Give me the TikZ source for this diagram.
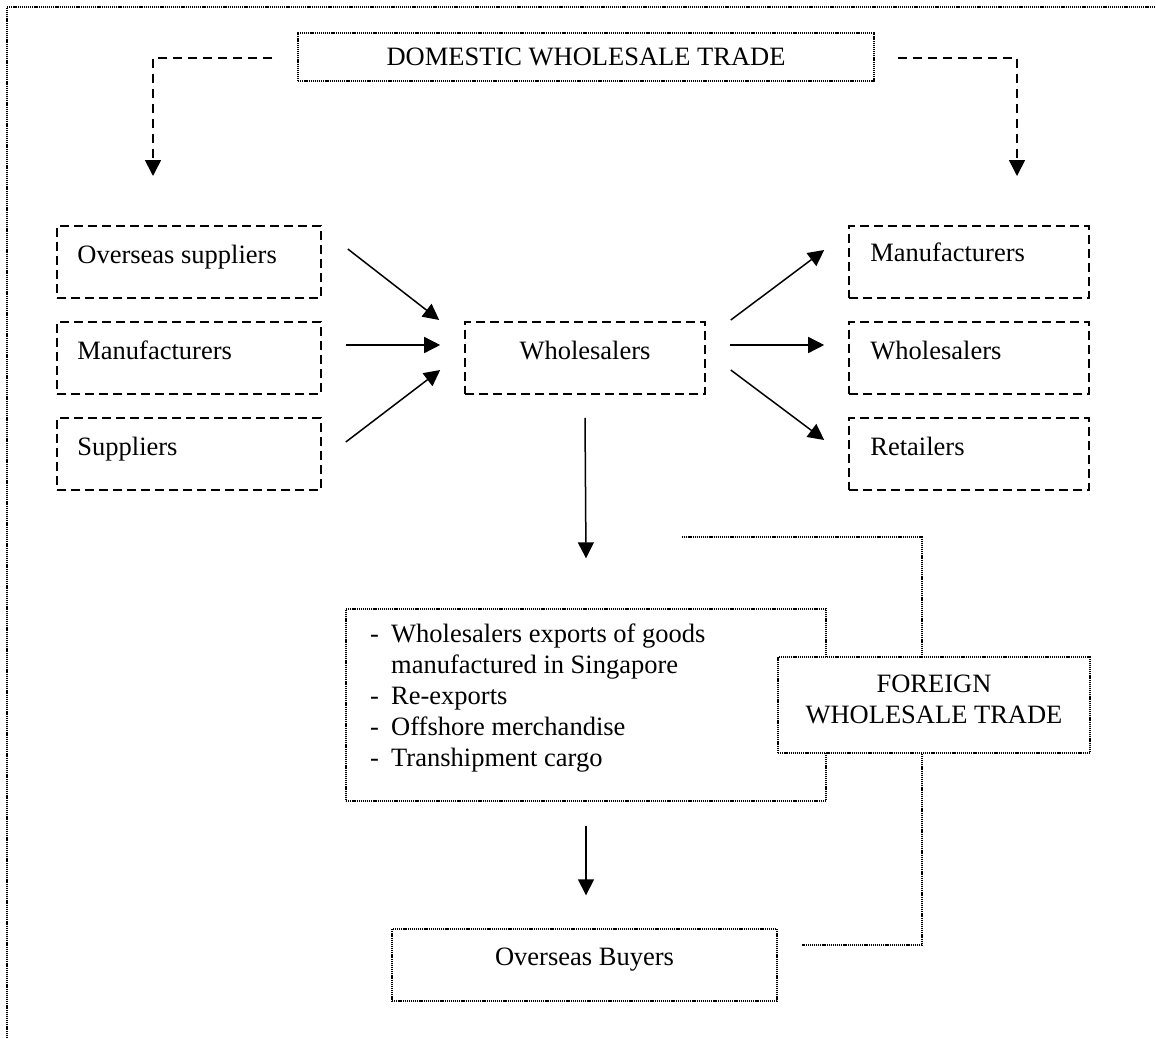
\documentclass[tikz,border=0pt]{standalone}
\usepackage{fontspec}
\setmainfont{Liberation Serif}
\usetikzlibrary{arrows.meta,calc}
\tikzset{
  dotbox/.style={draw, line width=1.4pt, dash pattern=on 1.2pt off 0.9pt, fill=white, inner sep=0pt},
  dashbox/.style={draw, line width=1.6pt, dash pattern=on 9pt off 5pt, inner sep=0pt, minimum width=240pt, minimum height=72pt},
  sidebox/.style={dashbox, minimum width=264pt},
  lbl/.style={inner sep=0pt, font=\fontsize{26.5}{31}\selectfont},
  arr/.style={line width=1.5pt, -{Triangle[length=16pt,width=16pt]}},
  darr/.style={line width=1.6pt, dash pattern=on 9pt off 6pt, -{Triangle[length=16pt,width=16pt]}},
  dotline/.style={line width=1.4pt, dash pattern=on 1.2pt off 0.9pt},
}
\begin{document}
\begin{tikzpicture}[x=1pt,y=-1pt]
\useasboundingbox (0,0) rectangle (1156,1038);
% outer frame (top and left only)
\draw[dotline] (7,1038) -- (7,7) -- (1156,7);

% top box
\node[dotbox, lbl, minimum width=576pt, minimum height=48pt] (dom) at (586,57) {DOMESTIC WHOLESALE TRADE};

% left boxes
\node[sidebox] (osup) at (189,262) {};
\node[lbl, anchor=base west] (osupT) at ($(osup.west)+(21,1)$) {Overseas suppliers};
\node[sidebox] (lman) at (189,358) {};
\node[lbl, anchor=base west] (lmanT) at ($(lman.west)+(21,1)$) {Manufacturers};
\node[sidebox] (lsup) at (189,454) {};
\node[lbl, anchor=base west] (lsupT) at ($(lsup.west)+(21,1)$) {Suppliers};

% centre
\node[dashbox] (whl) at (585,358) {};
\node[lbl, anchor=base] (whlT) at ($(whl.center)+(0,1)$) {Wholesalers};

% right boxes
\node[dashbox] (rman) at (969,262) {};
\node[lbl, anchor=base west] (rmanT) at ($(rman.west)+(22,-1)$) {Manufacturers};
\node[dashbox] (rwhl) at (969,358) {};
\node[lbl, anchor=base west] (rwhlT) at ($(rwhl.west)+(22,1)$) {Wholesalers};
\node[dashbox] (ret) at (969,454) {};
\node[lbl, anchor=base west] (retT) at ($(ret.west)+(22,1)$) {Retailers};

% exports box
\node[dotbox, minimum width=480pt, minimum height=192pt] (exp) at (586,705) {};
\node[lbl, anchor=base west] (expT) at (370,642) {\begin{tabular}[t]{@{}l@{}l@{}}
\makebox[21pt][l]{-}&Wholesalers exports of goods\\
&manufactured in Singapore\\
\makebox[21pt][l]{-}&Re-exports\\
\makebox[21pt][l]{-}&Offshore merchandise\\
\makebox[21pt][l]{-}&Transhipment cargo
\end{tabular}};

% foreign box
\node[dotbox, minimum width=312pt, minimum height=96pt] (for) at (934,705) {};
\node[lbl, align=center] (forT) at (934,699) {FOREIGN\\WHOLESALE TRADE};

% overseas buyers
\node[dotbox, minimum width=385pt, minimum height=72pt] (buy) at (584.5,965) {};
\node[lbl, anchor=base] (buyT) at ($(buy.center)+(0,0)$) {Overseas Buyers};

% free ends
\coordinate (ltip) at (153,176);
\coordinate (rtip) at (1017,176);
\coordinate (fstart) at (682,537);
\coordinate (fend) at (802,945);

% dashed arrows from top box
\draw[darr] ($(dom.west)+(-25,1)$) -| (ltip);
\draw[darr] ($(dom.east)+(23,1)$) -| (rtip);

% into wholesalers
\draw[arr] ($(osup.east)+(26,-13)$) -- ($(whl.west)+(-25,-38)$);
\draw[arr] ($(lman.east)+(24,-13)$) -- ($(whl.west)+(-24,-13)$);
\draw[arr] ($(lsup.east)+(24,-12)$) -- ($(whl.west)+(-24,12)$);

% out of wholesalers
\draw[arr] ($(whl.east)+(25,-38)$) -- ($(rman.west)+(-24,-12)$);
\draw[arr] ($(whl.east)+(24,-13)$) -- ($(rwhl.west)+(-24,-13)$);
\draw[arr] ($(whl.east)+(25,12)$) -- ($(ret.west)+(-24,-14)$);

% downwards
\draw[arr] ($(whl.south)+(0,23)$) -- ($(exp.north)+(0,-50)$);
\draw[arr] ($(exp.south)+(0,24)$) -- ($(buy.north)+(1.5,-33)$);

% foreign bracket
\draw[dotline] (fstart) -| ($(for.north)+(-12,0)$);
\draw[dotline] ($(for.south)+(-12,0)$) |- (fend);
\end{tikzpicture}
\end{document}
